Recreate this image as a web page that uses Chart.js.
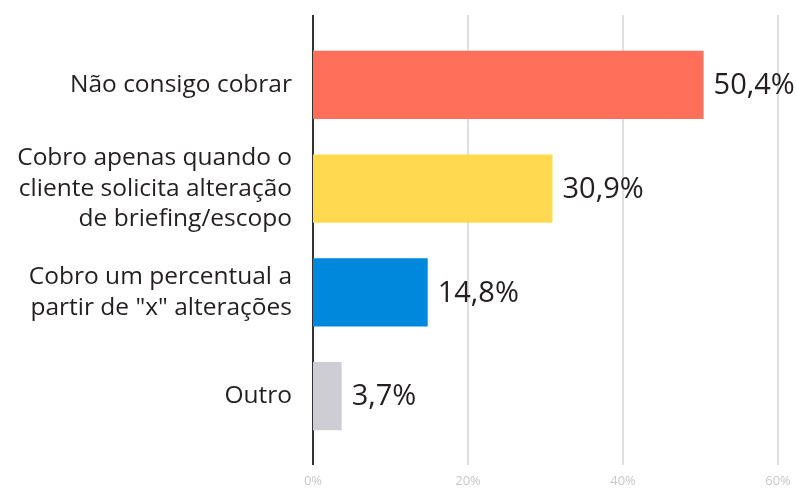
<!DOCTYPE html>
<html>
<head>
<meta charset="utf-8">
<script src="https://cdn.jsdelivr.net/npm/chart.js@4/dist/chart.umd.min.js"></script>
<style>
  html, body { margin: 0; padding: 0; background: #fff; }
  #wrap { width: 796px; height: 488px; }
</style>
</head>
<body>
<div id="wrap"><canvas id="chart"></canvas></div>
<script>
// data
const categories = [
    ['Não consigo cobrar'],
    ['Cobro apenas quando o', 'cliente solicita alteração', 'de briefing/escopo'],
    ['Cobro um percentual a', 'partir de "x" alterações'],
    ['Outro']
];
const values = [50.4, 30.9, 14.8, 3.7];
const barColors = ['#ff6f5a', '#ffda50', '#0088dd', '#cdcdd3'];
const xTicks = [0, 20, 40, 60];

const fontFamily = '"Open Sans", "Noto Sans", sans-serif';

// grid lines reach past the category bands, so draw them here
const gridPlugin = {
    id: 'grid',
    beforeDatasetsDraw(chart) {
        const ctx = chart.ctx;
        const x = chart.scales.x;
        ctx.save();
        xTicks.forEach(t => {
            const px = Math.round(x.getPixelForValue(t));
            ctx.beginPath();
            ctx.lineWidth = t === 0 ? 2 : 1.5;
            ctx.strokeStyle = t === 0 ? '#333333' : '#d4d4d4';
            ctx.moveTo(px, 15);
            ctx.lineTo(px, 465);
            ctx.stroke();
        });
        ctx.restore();
    }
};

const valueLabels = {
    id: 'valueLabels',
    afterDatasetsDraw(chart) {
        const ctx = chart.ctx;
        const meta = chart.getDatasetMeta(0);
        ctx.save();
        ctx.font = '29px ' + fontFamily;
        ctx.fillStyle = '#231f20';
        ctx.textAlign = 'left';
        ctx.textBaseline = 'middle';
        meta.data.forEach((bar, i) => {
            ctx.fillText(values[i].toFixed(1).replace('.', ',') + '%', bar.x + 10, bar.y + 1);
        });
        ctx.restore();
    }
};

new Chart(document.getElementById('chart'), {
    type: 'bar',
    data: {
        labels: categories,
        datasets: [{
            data: values,
            backgroundColor: barColors,
            barPercentage: 0.66,
            categoryPercentage: 1
        }]
    },
    options: {
        indexAxis: 'y',
        responsive: true,
        maintainAspectRatio: false,
        animation: false,
        layout: { padding: { top: 33, right: 18, bottom: 0, left: 0 } },
        plugins: {
            legend: { display: false },
            tooltip: { enabled: false }
        },
        scales: {
            x: {
                min: 0,
                max: 60,
                afterBuildTicks: scale => { scale.ticks = xTicks.map(v => ({ value: v })); },
                afterFit: scale => { scale.height = 40; scale.paddingLeft = 0; scale.paddingRight = 0; },
                grid: { display: false },
                border: { display: false },
                ticks: {
                    padding: 17,
                    maxRotation: 0,
                    minRotation: 0,
                    color: '#c8c8c8',
                    font: { family: fontFamily, size: 13 },
                    callback: v => v + '%'
                }
            },
            y: {
                afterFit: scale => { scale.width = 313; },
                grid: { display: false },
                border: { display: false },
                ticks: {
                    padding: 13,
                    color: '#231f20',
                    font: { family: fontFamily, size: 24.5, lineHeight: 1.24 }
                }
            }
        }
    },
    plugins: [gridPlugin, valueLabels]
});
</script>
</body>
</html>
